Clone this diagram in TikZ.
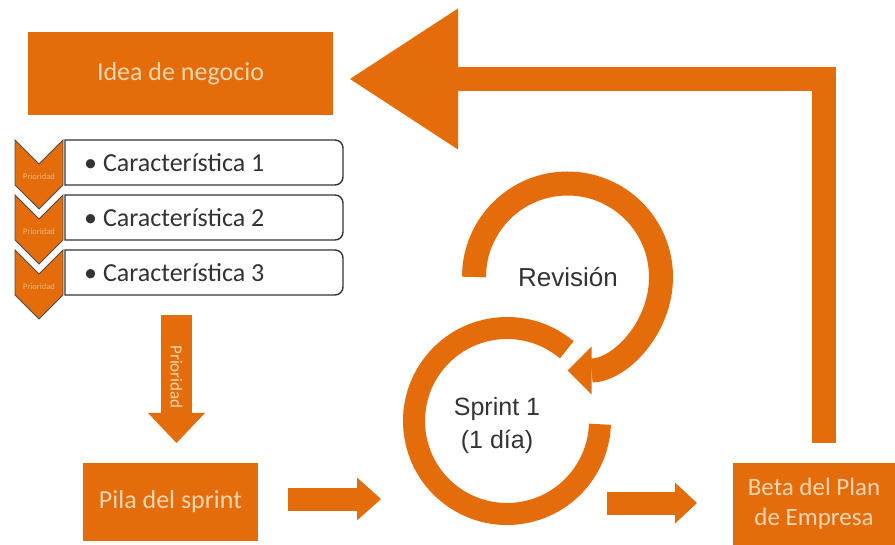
\documentclass[tikz,border=0pt]{standalone}
\usepackage{fontspec}
\setmainfont{Carlito}
\newfontfamily\arialf{Liberation Sans}
\usetikzlibrary{arrows.meta}
\definecolor{org}{HTML}{E46C0A}
\definecolor{pale}{HTML}{FAD7B0}
\definecolor{chevtxt}{HTML}{F4B27C}
\definecolor{txt}{HTML}{333333}
\begin{document}
\begin{tikzpicture}[x=1pt,y=-1pt,
  obox/.style={fill=org, draw=none, text=pale, inner sep=0pt, align=center},
  feattext/.style={anchor=west, text=txt, inner sep=0pt, font=\fontsize{26}{30}\selectfont},
  featline/.style={draw=black!80, line width=1.4pt, fill=white},
  chevron/.style={fill=org, draw=black!70, line width=0.8pt, line join=miter},
  chevlabel/.style={text=chevtxt, font=\fontsize{8.5}{9}\selectfont, inner sep=0pt},
  blockarrow/.style={draw=org, line width=#1, line join=miter},
  arialtext/.style={text=txt, align=center, inner sep=0pt}
 ]
\useasboundingbox (0,0) rectangle (895,545);

% Idea de negocio
\node[obox, minimum width=305pt, minimum height=83pt, font=\fontsize{26}{30}\selectfont] (idea) at (180.5,73.5) {Idea de negocio};

% feature boxes
\foreach \t/\n in {140/1,195/2,250/3}{
  \draw[featline] (65,\t+45) -- (65,\t) -- (335,\t) arc[start angle=-90,end angle=0,radius=8] -- (343,\t+37) arc[start angle=0,end angle=90,radius=8] -- cycle;
  \node[feattext] (f\n) at (84,\t+23) {• Característica \n};
  \draw[chevron] (15,\t) -- (39,\t+24) -- (63,\t) -- (63,\t+45) -- (39,\t+69) -- (15,\t+45) -- cycle;
  \node[chevlabel] (c\n) at (39,\t+37) {Prioridad};
}

% Prioridad arrow
\coordinate (pr0) at (176.5,315);
\coordinate (pr1) at (176.5,443);
\draw[blockarrow=31pt, -{Triangle[length=30pt,width=57pt,line width=0pt]}] (pr0) -- (pr1);
\node[rotate=-90, text=pale, font=\fontsize{17}{18}\selectfont, inner sep=0pt] (prio) at (176.5,377) {Prioridad};

% Pila del sprint
\node[obox, minimum width=175pt, minimum height=78pt, font=\fontsize{26}{30}\selectfont] (pila) at (170.5,502) {Pila del sprint};

% Beta box
\node[obox, minimum width=162pt, minimum height=82pt, font=\fontsize{25}{30}\selectfont] (beta) at (814,504) {Beta del Plan\\de Empresa};

% Sprint ring
\coordinate (sc) at (507,421);
\draw[org, line width=22pt] (sc) ++(-50:93) arc[start angle=-50, end angle=-358, radius=93];
\node[arialtext, font=\arialf\fontsize{25}{33}\selectfont] (sprint) at (497,426) {Sprint 1\\(1 día)};

% Revision arrow
\coordinate (rc) at (567.5,277);
\draw[org, line width=24pt, -{Triangle[length=24pt,width=48pt,line width=0pt]}] (rc) ++(-180:93.5) arc[start angle=-180, end angle=90, radius=93.5];
\node[arialtext, font=\arialf\fontsize{26}{30}\selectfont] (rev) at (568,277) {Revisión};

% Pila -> Sprint
\coordinate (a0) at (288,499);
\coordinate (a1) at (381,499);
\draw[blockarrow=23pt, -{Triangle[length=24pt,width=43pt,line width=0pt]}] (a0) -- (a1);

% Sprint -> Beta
\coordinate (b0) at (607,503);
\coordinate (b1) at (697,503);
\draw[blockarrow=23pt, -{Triangle[length=22pt,width=41pt,line width=0pt]}] (b0) -- (b1);

% return arrow Beta -> Idea
\coordinate (r0) at (823.5,443);
\coordinate (r1) at (823.5,79);
\coordinate (r2) at (350,79);
\draw[blockarrow=24pt, -{Triangle[length=108pt,width=141pt,line width=0pt]}] (r0) -- (r1) -- (r2);
\end{tikzpicture}
\end{document}
